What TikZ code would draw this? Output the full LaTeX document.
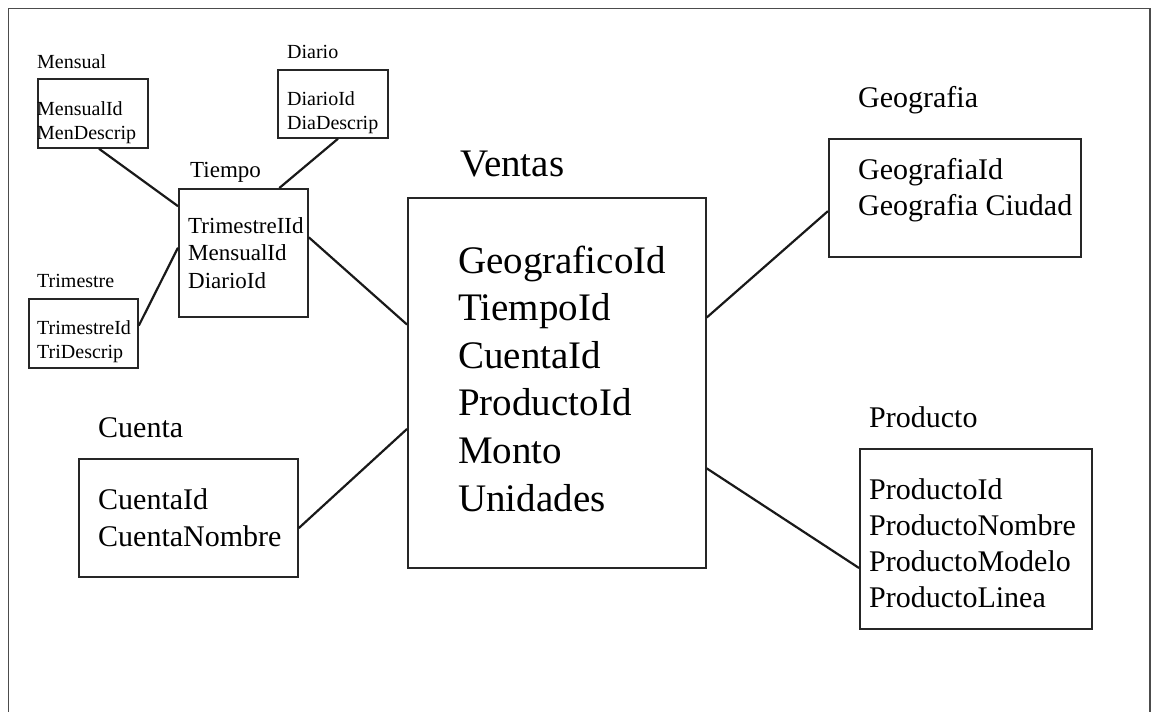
\documentclass[tikz,border=0pt]{standalone}
\usepackage{fontspec}
\setmainfont{Liberation Serif}
\usetikzlibrary{calc}

\tikzset{
  tablebox/.style={draw=black!85, line width=1.8pt, inner sep=0pt, anchor=north west},
  link/.style={draw=black!90, line width=2.2pt},
  frame/.style={draw=black!70, line width=1.8pt},
  txt/.style={inner sep=0pt, anchor=base west, text=black},
  huge/.style={txt, font=\fontsize{39}{47}\selectfont},
  big/.style={txt, font=\fontsize{30}{36}\selectfont},
  mid/.style={txt, font=\fontsize{23}{27}\selectfont},
  small/.style={txt, font=\fontsize{20}{24}\selectfont},
}

\begin{document}
\begin{tikzpicture}[x=1pt, y=-1pt]
\useasboundingbox (0,0) rectangle (1152,712);

% outer frame (open at the bottom)
\draw[frame] (8.5,712) -- (8.5,8.5) -- (1150,8.5) -- (1150,712);

% ---- table boxes ----
\node[tablebox, minimum width=110, minimum height=69] (mensual) at (37,78) {};
\node[tablebox, minimum width=110, minimum height=68] (diario) at (277,69) {};
\node[tablebox, minimum width=129, minimum height=128] (tiempo) at (178,188) {};
\node[tablebox, minimum width=109, minimum height=69] (trimestre) at (28,298) {};
\node[tablebox, minimum width=298, minimum height=370] (ventas) at (407,197) {};
\node[tablebox, minimum width=252, minimum height=118] (geografia) at (828,138) {};
\node[tablebox, minimum width=232, minimum height=180] (producto) at (859,448) {};
\node[tablebox, minimum width=219, minimum height=118] (cuenta) at (78,458) {};

% ---- titles ----
\node[small] (tMensual) at (37,68) {Mensual};
\node[small] (tDiario) at (287,58) {Diario};
\node[mid] (tTiempo) at (190,177) {Tiempo};
\node[small] (tTrimestre) at (37,287) {Trimestre};
\node[huge] (tVentas) at (460,176) {Ventas};
\node[big] (tGeografia) at (858,107) {Geografia};
\node[big] (tProducto) at (869,427) {Producto};
\node[big] (tCuenta) at (98,437) {Cuenta};

% ---- fields ----
\foreach \f [count=\i] in {MensualId, MenDescrip}
  \node[small] (fMensual\i) at (37,{115+24.5*(\i-1)}) {\f};
\foreach \f [count=\i] in {DiarioId, DiaDescrip}
  \node[small] (fDiario\i) at (287,{105+24.5*(\i-1)}) {\f};
\foreach \f [count=\i] in {TrimestreIId, MensualId, DiarioId}
  \node[mid] (fTiempo\i) at (188,{233+27.5*(\i-1)}) {\f};
\foreach \f [count=\i] in {TrimestreId, TriDescrip}
  \node[small] (fTrimestre\i) at (37,{334+24*(\i-1)}) {\f};
\foreach \f [count=\i] in {GeograficoId, TiempoId, CuentaId, ProductoId, Monto, Unidades}
  \node[huge] (fVentas\i) at (458,{273+47.6*(\i-1)}) {\f};
\foreach \f [count=\i] in {GeografiaId, Geografia Ciudad}
  \node[big] (fGeografia\i) at (858,{179+36.5*(\i-1)}) {\f};
\foreach \f [count=\i] in {ProductoId, ProductoNombre, ProductoModelo, ProductoLinea}
  \node[big] (fProducto\i) at (869,{499+36*(\i-1)}) {\f};
\foreach \f [count=\i] in {CuentaId, CuentaNombre}
  \node[big] (fCuenta\i) at (98,{509+37*(\i-1)}) {\f};

% ---- connectors ----
\draw[link] ($(mensual.south west)!0.555!(mensual.south east)$)
         -- ($(tiempo.north west)!0.14!(tiempo.south west)$);
\draw[link] ($(diario.south west)!0.545!(diario.south east)$)
         -- ($(tiempo.north west)!0.775!(tiempo.north east)$);
\draw[link] ($(trimestre.north east)!0.39!(trimestre.south east)$)
         -- ($(tiempo.north west)!0.46!(tiempo.south west)$);
\draw[link] ($(tiempo.north east)!0.38!(tiempo.south east)$)
         -- ($(ventas.north west)!0.343!(ventas.south west)$);
\draw[link] ($(cuenta.north east)!0.585!(cuenta.south east)$)
         -- ($(ventas.north west)!0.624!(ventas.south west)$);
\draw[link] ($(ventas.north east)!0.324!(ventas.south east)$)
         -- ($(geografia.north west)!0.61!(geografia.south west)$);
\draw[link] ($(ventas.north east)!0.73!(ventas.south east)$)
         -- ($(producto.north west)!0.66!(producto.south west)$);
\end{tikzpicture}
\end{document}
